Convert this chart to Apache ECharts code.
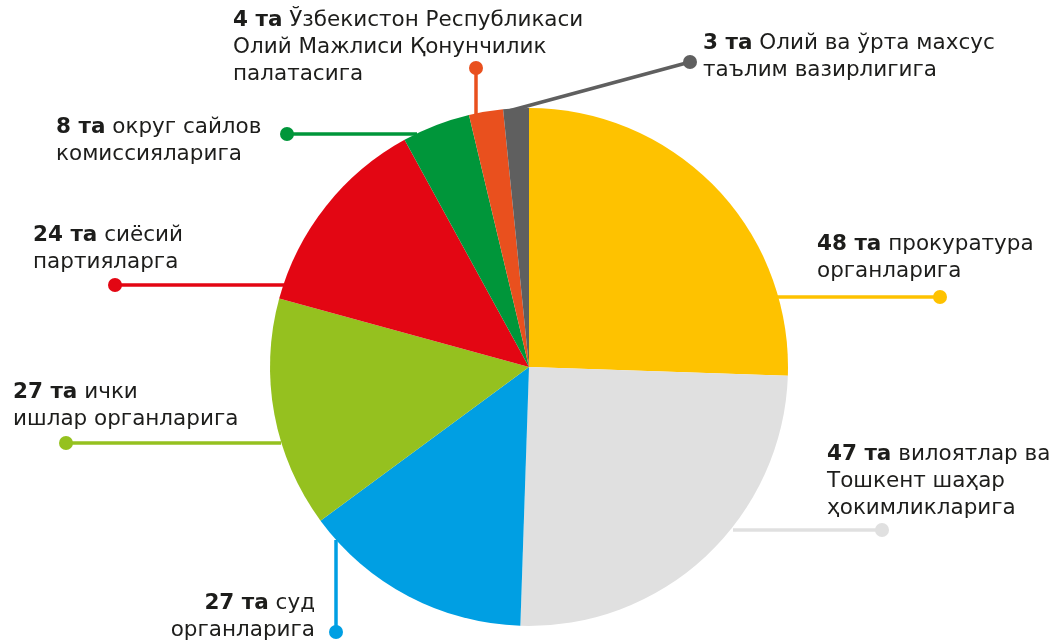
<!DOCTYPE html>
<html>
<head>
<meta charset="utf-8">
<script src="https://cdn.jsdelivr.net/npm/echarts@6/dist/echarts.min.js"></script>
<style>
  html, body { margin: 0; padding: 0; background: #fff; }
  #chart { width: 1059px; height: 644px; }
</style>
</head>
<body>
<div id="chart"></div>
<script>
// data, clockwise from 12 o'clock
var names = [
    'прокуратура\nорганларига',
    'вилоятлар ва\nТошкент шаҳар\nҳокимликларига',
    'суд\nорганларига',
    'ички\nишлар органларига',
    'сиёсий\nпартияларга',
    'округ сайлов\nкомиссияларига',
    'Ўзбекистон Республикаси\nОлий Мажлиси Қонунчилик\nпалатасига',
    'Олий ва ўрта махсус\nтаълим вазирлигига'
];
var values = [48, 47, 27, 27, 24, 8, 4, 3];
var colors = ['#fec200', '#e0e0e0', '#009fe3', '#95c11f', '#e30613', '#00963a', '#e9501e', '#5f5f5f'];

// label placement (pixels): text anchor, alignment, leader line
var labelPlace = [
    {x: 817, y: 231, align: 'left', line: [[776, 297], [940, 297]]},
    {x: 827, y: 441, align: 'left', line: [[733, 530], [882, 530]]},
    {x: 315, y: 590, align: 'right', line: [[336, 540], [336, 632]]},
    {x: 13, y: 379, align: 'left', line: [[281, 443], [66, 443]]},
    {x: 33, y: 222, align: 'left', line: [[284, 285], [115, 285]]},
    {x: 56, y: 114, align: 'left', line: [[417, 134], [287, 134]]},
    {x: 233, y: 7, align: 'left', line: [[476, 114], [476, 68]]},
    {x: 703, y: 30, align: 'left', line: [[505, 112], [690, 62]]}
];

var chartDom = document.getElementById('chart');
var myChart = echarts.init(chartDom);

var pieData = values.map(function (v, i) {
    return {
        value: v,
        name: names[i],
        itemStyle: {color: colors[i]},
        labelLine: {lineStyle: {color: colors[i]}}
    };
});

var dots = labelPlace.map(function (p, i) {
    var end = p.line[p.line.length - 1];
    return {
        type: 'circle',
        shape: {cx: end[0], cy: end[1], r: 7},
        style: {fill: colors[i]},
        z: 10
    };
});

var option = {
    animation: false,
    graphic: dots,
    series: [
        {
            type: 'pie',
            center: [529, 367],
            radius: 259,
            startAngle: 90,
            clockwise: true,
            data: pieData,
            label: {
                show: true,
                position: 'outside',
                overflow: 'none',
                fontFamily: 'DejaVu Sans',
                fontSize: 21.5,
                lineHeight: 27,
                color: '#1d1d1b',
                formatter: function (params) {
                    return '{b|' + params.value + ' та} ' + params.name;
                },
                rich: {
                    b: {
                        fontFamily: 'DejaVu Sans',
                        fontWeight: 'bold',
                        fontSize: 21.5,
                        lineHeight: 27,
                        color: '#1d1d1b'
                    }
                }
            },
            labelLine: {
                show: true,
                lineStyle: {width: 3.5}
            },
            labelLayout: function (params) {
                var p = labelPlace[params.dataIndex];
                return {
                    x: p.x,
                    y: p.y,
                    align: p.align,
                    verticalAlign: 'top',
                    labelLinePoints: [p.line[0], p.line[0], p.line[1]]
                };
            }
        }
    ]
};
myChart.setOption(option);
</script>
</body>
</html>
